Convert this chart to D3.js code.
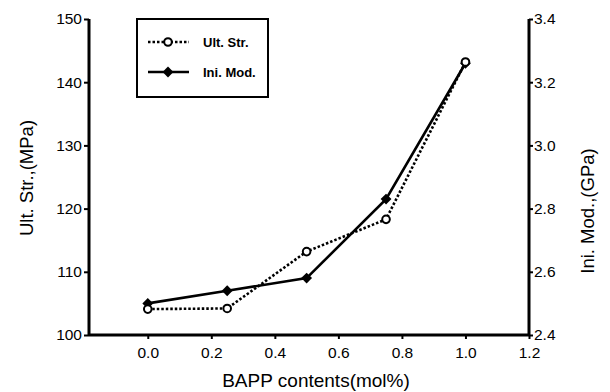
<!DOCTYPE html>
<html>
<head>
<meta charset="utf-8">
<script src="https://cdn.jsdelivr.net/npm/d3@7"></script>
<style>
  body { margin: 0; background: #fff; }
  text { font-family: Arial, "Liberation Sans", sans-serif; fill: #000; }
</style>
</head>
<body>
<svg id="chart"></svg>
<script>
// BAPP contents (mol%)
const bapp = [0.0, 0.25, 0.5, 0.75, 1.0];
// Ultimate strength (MPa), left axis
const ultStr = [104.1, 104.2, 113.2, 118.3, 143.2];
// Initial modulus (GPa), right axis
const iniMod = [2.50, 2.54, 2.58, 2.83, 3.26];

const xTicks = [0.0, 0.2, 0.4, 0.6, 0.8, 1.0, 1.2];
const yLeftTicks = [100, 110, 120, 130, 140, 150];
const yRightTicks = [2.4, 2.6, 2.8, 3.0, 3.2, 3.4];

const W = 610, H = 392;
const margin = {top: 19, right: 81, bottom: 57, left: 89};
const width = W - margin.left - margin.right;
const height = H - margin.top - margin.bottom;

const svg = d3.select('#chart').attr('width', W).attr('height', H);
const chart = svg.append('g')
  .attr('transform', `translate(${margin.left},${margin.top})`);

const x = d3.scaleLinear().domain([-0.185, 1.2]).range([0, width]);
const yL = d3.scaleLinear().domain([100, 150]).range([height, 0]);
const yR = d3.scaleLinear().domain([2.4, 3.4]).range([height, 0]);

// axes
const xAxis = d3.axisBottom(x).tickValues(xTicks).tickFormat(d3.format('.1f'))
  .tickSize(4).tickPadding(8);
const yAxisL = d3.axisLeft(yL).tickValues(yLeftTicks).tickSize(5).tickPadding(2);
const yAxisR = d3.axisRight(yR).tickValues(yRightTicks).tickFormat(d3.format('.1f'))
  .tickSize(4).tickPadding(1);

function styleAxis(g) {
  g.select('.domain').attr('stroke-width', 3).attr('stroke', '#000');
  g.selectAll('.tick line').attr('stroke-width', 2).attr('stroke', '#000');
  g.selectAll('.tick text').style('font-size', '15.5px').attr('fill', '#000');
}

chart.append('g').attr('transform', `translate(0,${height})`)
  .call(xAxis).call(styleAxis)
  .call(g => g.select('.domain').attr('d', `M0,0H${width}`));
chart.append('g').call(yAxisL).call(styleAxis)
  .call(g => g.select('.domain').attr('d', `M0,${height}V0`));
chart.append('g').attr('transform', `translate(${width},0)`)
  .call(yAxisR).call(styleAxis)
  .call(g => g.select('.domain').attr('d', `M0,${height}V0`));

// axis titles
svg.append('text')
  .attr('transform', `translate(33,178) rotate(-90)`)
  .attr('text-anchor', 'middle')
  .style('font-size', '18.5px')
  .text('Ult. Str.,(MPa)');

svg.append('text')
  .attr('transform', `translate(594,211) rotate(-90)`)
  .attr('text-anchor', 'middle')
  .style('font-size', '18.5px')
  .text('Ini. Mod.,(GPa)');

svg.append('text')
  .attr('x', 316).attr('y', 387)
  .attr('text-anchor', 'middle')
  .style('font-size', '19px')
  .text('BAPP contents(mol%)');

// lines
const ultData = bapp.map((b, i) => ({x: b, y: ultStr[i]}));
const modData = bapp.map((b, i) => ({x: b, y: iniMod[i]}));

chart.append('path')
  .datum(modData)
  .attr('fill', 'none').attr('stroke', '#000').attr('stroke-width', 2.6)
  .attr('d', d3.line().x(d => x(d.x)).y(d => yR(d.y)));

chart.append('path')
  .datum(ultData)
  .attr('fill', 'none').attr('stroke', '#000').attr('stroke-width', 2.6)
  .attr('stroke-dasharray', '2.5,2')
  .attr('d', d3.line().x(d => x(d.x)).y(d => yL(d.y)));

const diamond = d3.symbol().type(d3.symbolDiamond2).size(75);

chart.selectAll('.mod-pt').data(modData).join('path')
  .attr('class', 'mod-pt')
  .attr('transform', d => `translate(${x(d.x)},${yR(d.y)})`)
  .attr('d', diamond).attr('fill', '#000');

chart.selectAll('.ult-pt').data(ultData).join('circle')
  .attr('class', 'ult-pt')
  .attr('cx', d => x(d.x)).attr('cy', d => yL(d.y))
  .attr('r', 3.8)
  .attr('fill', '#fff').attr('stroke', '#000').attr('stroke-width', 2);

// legend
const legend = svg.append('g');
legend.append('rect')
  .attr('x', 137).attr('y', 19).attr('width', 131).attr('height', 78)
  .attr('fill', '#fff').attr('stroke', '#000').attr('stroke-width', 2);

legend.append('line')
  .attr('x1', 148).attr('x2', 189).attr('y1', 42).attr('y2', 42)
  .attr('stroke', '#000').attr('stroke-width', 2.6).attr('stroke-dasharray', '2.5,2');
legend.append('circle')
  .attr('cx', 168).attr('cy', 42).attr('r', 3.8)
  .attr('fill', '#fff').attr('stroke', '#000').attr('stroke-width', 2);
legend.append('text')
  .attr('x', 203).attr('y', 46.5)
  .style('font-size', '13px').style('font-weight', 'bold')
  .text('Ult. Str.');

legend.append('line')
  .attr('x1', 148).attr('x2', 189).attr('y1', 72).attr('y2', 72)
  .attr('stroke', '#000').attr('stroke-width', 2.6);
legend.append('path')
  .attr('transform', 'translate(168,72)')
  .attr('d', diamond).attr('fill', '#000');
legend.append('text')
  .attr('x', 203).attr('y', 76.5)
  .style('font-size', '13px').style('font-weight', 'bold')
  .text('Ini. Mod.');
</script>
</body>
</html>
